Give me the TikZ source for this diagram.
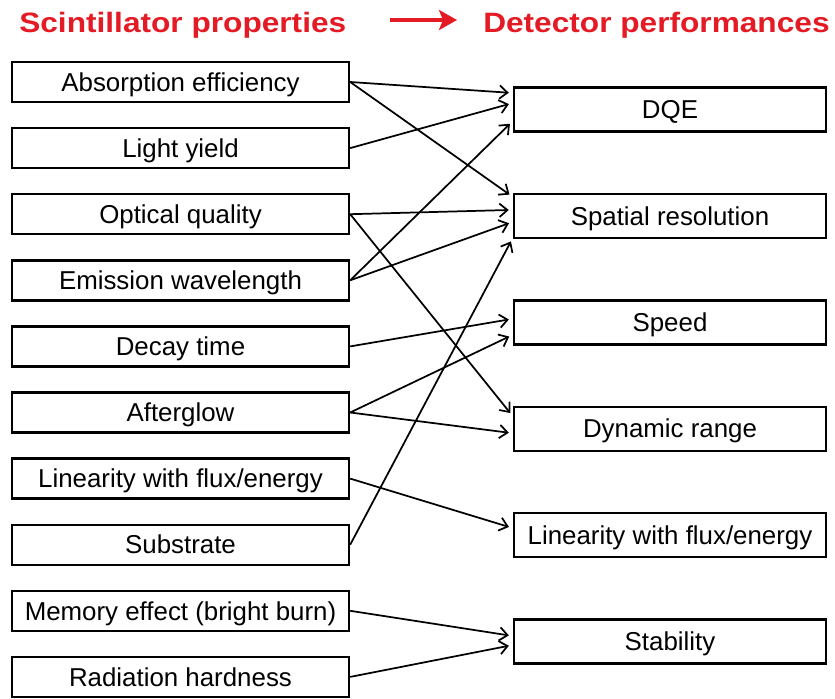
\documentclass[tikz,border=0pt]{standalone}
\usepackage{fontspec}
\setmainfont{Liberation Sans}
\newfontfamily\headfont[FakeStretch=1.13]{Liberation Sans}
\usetikzlibrary{arrows.meta,calc}
\definecolor{headred}{RGB}{228,26,36}

\begin{document}
\begin{tikzpicture}[x=0.75pt,y=-0.75pt]
\tikzstyle{every node}=[font=\fontsize{19.4}{22}\selectfont]
\tikzstyle{head}=[anchor=base west, inner sep=0, text=headred, font=\headfont\bfseries\fontsize{21}{24}\selectfont]
\tikzstyle{prop}=[draw, line width=1.8pt, minimum width=252.75pt, minimum height=30pt, inner sep=0, text height=17pt, text depth=3.2pt]
\tikzstyle{perf}=[draw, line width=1.8pt, minimum width=234pt, minimum height=33pt, inner sep=0, text height=17pt, text depth=3.2pt]
\tikzstyle{link}=[line width=1.3pt, -{Straight Barb[length=6pt,width=10pt]}, shorten >=3pt]
\useasboundingbox (0,0) rectangle (835,699);

\node[head] (ltitle) at (19,33) {Scintillator properties};
\node[head] (rtitle) at (483,33) {Detector performances};
\coordinate (a0) at (390,20);
\coordinate (a1) at (457,20);
\draw [headred, line width=3pt, -{Stealth[length=13.5pt,width=15pt,inset=3pt]}] (a0) -- (a1);

\node[prop] (abs) at (180.5,82) {Absorption efficiency};
\node[prop] (ly) at (180.5,148.1) {Light yield};
\node[prop] (opt) at (180.5,214.2) {Optical quality};
\node[prop] (emi) at (180.5,280.3) {Emission wavelength};
\node[prop] (dec) at (180.5,346.4) {Decay time};
\node[prop] (aft) at (180.5,412.5) {Afterglow};
\node[prop] (lin) at (180.5,478.6) {Linearity with flux/energy};
\node[prop] (sub) at (180.5,544.7) {Substrate};
\node[prop] (mem) at (180.5,610.8) {Memory effect (bright burn)};
\node[prop] (rad) at (180.5,676.9) {Radiation hardness};

\node[perf] (dqe) at (670,109.5) {DQE};
\node[perf] (spa) at (670,215.9) {Spatial resolution};
\node[perf] (spd) at (670,322.3) {Speed};
\node[perf] (dyn) at (670,428.7) {Dynamic range};
\node[perf] (plin) at (670,535.1) {Linearity with flux/energy};
\node[perf] (stab) at (670,641.5) {Stability};

\draw [link] (abs.east) -- ($(dqe.west)+(0,-16.5)$);
\draw [link] (ly.east) -- ($(dqe.west)+(0,-6.5)$);
\draw [link] (emi.east) -- ($(dqe.west)+(0,11.5)$);
\draw [link] (abs.east) -- ($(spa.west)+(0,-19)$);
\draw [link] (opt.east) -- ($(spa.west)+(0,-6)$);
\draw [link] (emi.east) -- ($(spa.west)+(0,6)$);
\draw [link] (sub.east) -- ($(spa.west)+(0,22)$);
\draw [link] (dec.east) -- ($(spd.west)+(0,-3.5)$);
\draw [link] (aft.east) -- ($(spd.west)+(0,12.5)$);
\draw [link] (opt.east) -- ($(dyn.west)+(0,-12.5)$);
\draw [link] (aft.east) -- ($(dyn.west)+(0,4.5)$);
\draw [link] (lin.east) -- ($(plin.west)+(0,-7)$);
\draw [link] (mem.east) -- ($(stab.west)+(0,-5.5)$);
\draw [link] (rad.east) -- ($(stab.west)+(0,3.5)$);
\end{tikzpicture}
\end{document}
